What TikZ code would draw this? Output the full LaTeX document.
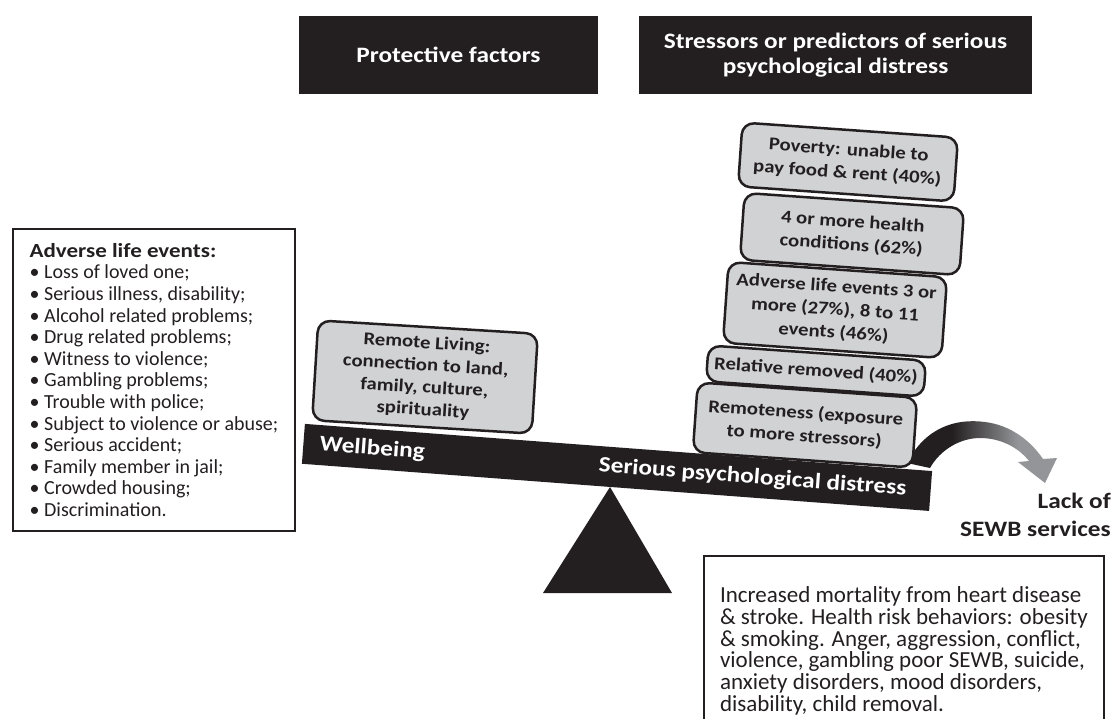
\documentclass[tikz,border=0pt]{standalone}
\usepackage{fontspec}
\setmainfont{Carlito}[BoldFeatures={FakeStretch=1.15}]
\usetikzlibrary{positioning}
\definecolor{ink}{RGB}{35,31,32}
\definecolor{boxgray}{RGB}{209,210,212}
\definecolor{arrowgray}{RGB}{147,149,152}
\pgfdeclarehorizontalshading{arrowshade}{100bp}{color(0bp)=(ink); color(40bp)=(ink); color(62bp)=(arrowgray); color(100bp)=(arrowgray)}
\newcommand{\tightlines}{\lineskiplimit=-20pt\relax}

\begin{document}
\begin{tikzpicture}[x=1pt,y=-1pt,
	head node/.style={fill=ink,text=white,font=\fontsize{22}{25}\selectfont\bfseries,align=center,minimum height=78pt,inner sep=0pt},
	stress node/.style={draw=ink,line width=2.5pt,fill=boxgray,rounded corners=12pt,text=ink,font=\fontsize{18}{23}\selectfont\bfseries,align=center,rotate=-4,inner sep=0pt},
	list node/.style={draw=ink,line width=2pt,text=ink,anchor=north west,align=left,inner xsep=16pt},
	beam text/.style={text=white,font=\fontsize{22}{25}\selectfont\bfseries,sloped,inner sep=0pt}
]
	\clip (0,0) rectangle (1115,718);

	% headers
	\node[head node,minimum width=299pt] (protect) at (448.5,55) {Protective factors};
	\node[head node,minimum width=393pt] (stress) at (835.5,55) {Stressors or predictors of serious\\psychological distress};

	% adverse life events
	\node[list node,minimum width=282pt,minimum height=302pt,font=\fontsize{20}{21.6}\selectfont] (events) at (12,228) {\textbf{Adverse life events:}\\
		• Loss of loved one;\\
		• Serious illness, disability;\\
		• Alcohol related problems;\\
		• Drug related problems;\\
		• Witness to violence;\\
		• Gambling problems;\\
		• Trouble with police;\\
		• Subject to violence or abuse;\\
		• Serious accident;\\
		• Family member in jail;\\
		• Crowded housing;\\
		• Discrimination.};

	% the scale
	\node[fill=ink,rotate=-4.3,minimum width=629pt,minimum height=40pt,inner sep=0pt] (beam) at (617,467.4) {};
	\path (beam.west) -- (beam.east)
		node[beam text,pos=0.11] (well) {Wellbeing}
		node[beam text,pos=0.716] (distress) {Serious psychological distress};
	\fill[ink] (610,487) -- (543,593) -- (672,593) -- cycle;

	% lack of services
	\shade[shading=arrowshade] (907,463) .. controls (925,428) and (955,418) .. (985,422)
		.. controls (1010,425) and (1030,440) .. (1043,459) -- (1057,458) -- (1045,483) -- (1018,462) -- (1029,461)
		.. controls (1018,447) and (1000,438) .. (980,438) .. controls (960,438) and (940,450) .. (930,468) -- cycle;
	\node[text=ink,font=\fontsize{22}{28}\selectfont\bfseries,align=right,anchor=north east,inner sep=0pt] (lack) at (1111,493) {Lack of\\SEWB services};

	% protective and stress boxes
	\node[stress node,rotate=0.5,minimum width=220pt,minimum height=100pt,font=\fontsize{18}{22.3}\selectfont\bfseries] (remote) at (425,377) {Remote Living:\\connection to land,\\family, culture,\\spirituality};
	\node[stress node,minimum width=216pt,minimum height=64pt] (poverty) at (848,162) {Poverty: unable to\\pay food \& rent (40\%)};
	\node[stress node,minimum width=220pt,minimum height=67pt] (health) at (852,234) {4 or more health\\conditions (62\%)};
	\node[stress node,minimum width=219pt,minimum height=81pt] (adverse) at (835,310) {Adverse life events 3 or\\more (27\%), 8 to 11\\events (46\%)};
	\node[stress node,minimum width=218pt,minimum height=36pt] (relative) at (816,371) {Relative removed (40\%)};
	\node[stress node,minimum width=220pt,minimum height=70pt] (remoteness) at (805,425) {Remoteness (exposure\\to more stressors)};

	% outcomes
	\node[list node,minimum height=190pt,inner ysep=19pt,font=\fontsize{23}{21.7}\selectfont\tightlines] (outcome) at (703,555) {Increased mortality from heart disease\\
		\& stroke. Health risk behaviors: obesity\\
		\& smoking. Anger, aggression, conflict,\\
		violence, gambling poor SEWB, suicide,\\
		anxiety disorders, mood disorders,\\
		disability, child removal.};
\end{tikzpicture}
\end{document}
